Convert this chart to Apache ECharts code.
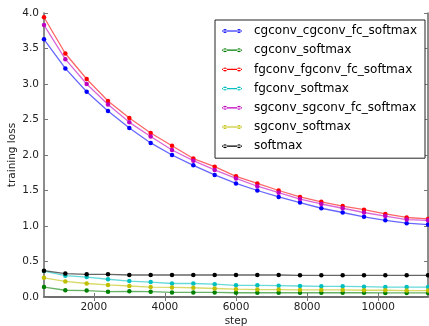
<!DOCTYPE html>
<html><head><meta charset="utf-8">
<script src="https://cdn.jsdelivr.net/npm/echarts@6/dist/echarts.min.js"></script>
<style>html,body{margin:0;padding:0;background:#fff}#c{width:429px;height:326px}</style>
</head><body><div id="c"></div>
<script>
const steps = [600,1200,1800,2400,3000,3600,4200,4800,5400,6000,6600,7200,7800,8400,9000,9600,10200,10800,11400];
const seriesNames = ['cgconv_cgconv_fc_softmax','cgconv_softmax','fgconv_fgconv_fc_softmax','fgconv_softmax','sgconv_sgconv_fc_softmax','sgconv_softmax','softmax'];
const cgconvFc = [3.63,3.22,2.89,2.62,2.38,2.17,2.00,1.855,1.72,1.60,1.50,1.41,1.33,1.25,1.19,1.13,1.08,1.04,1.02];
const cgconv = [0.14,0.095,0.09,0.075,0.08,0.075,0.065,0.065,0.065,0.06,0.06,0.06,0.06,0.06,0.06,0.06,0.058,0.058,0.058];
const fgconvFc = [3.94,3.43,3.07,2.76,2.52,2.31,2.13,1.95,1.835,1.70,1.60,1.50,1.41,1.34,1.28,1.23,1.17,1.12,1.10];
const fgconv = [0.366,0.30,0.28,0.25,0.225,0.21,0.19,0.19,0.18,0.165,0.165,0.16,0.155,0.15,0.15,0.145,0.14,0.14,0.14];
const sgconvFc = [3.83,3.35,3.00,2.71,2.46,2.26,2.07,1.92,1.79,1.67,1.56,1.47,1.38,1.31,1.25,1.19,1.14,1.09,1.08];
const sgconv = [0.27,0.22,0.19,0.17,0.155,0.14,0.135,0.13,0.12,0.11,0.105,0.105,0.10,0.10,0.10,0.095,0.095,0.09,0.09];
const softmax = [0.37,0.33,0.32,0.32,0.31,0.31,0.31,0.31,0.31,0.31,0.31,0.31,0.305,0.305,0.305,0.305,0.305,0.305,0.305];
const xTicks = [2000,4000,6000,8000,10000];
const colors = ['#0000ff','#008000','#ff0000','#00bfbf','#bf00bf','#bfbf00','#000000'];
const allValues = [cgconvFc,cgconv,fgconvFc,fgconv,sgconvFc,sgconv,softmax];

const font = 'DejaVu Sans';
const chart = echarts.init(document.getElementById('c'), null, {renderer:'canvas'});
const spine = {show:true, lineStyle:{color:'#666', width:1.5}};
const tick = {show:true, inside:true, length:4, lineStyle:{color:'#777', width:1}};
const icon = 'path://M0,1.4h20v1.2h-20z M1,2a2,2 0 1,0 4,0a2,2 0 1,0 -4,0z M15,2a2,2 0 1,0 4,0a2,2 0 1,0 -4,0z M0,2 M20,2';
chart.setOption({
  animation:false,
  grid:{left:44, right:1, top:13, bottom:29, containLabel:false, outerBoundsMode:'none'},
  xAxis:[{
    type:'value', min:600, max:11400, position:'bottom',
    name:'step', nameLocation:'middle', nameGap:19, nameMoveOverlap:false,
    nameTextStyle:{fontFamily:font, fontSize:10.5, color:'#222'},
    axisLine:spine, splitLine:{show:false},
    axisTick:Object.assign({customValues:xTicks}, tick),
    axisLabel:{customValues:xTicks, fontFamily:font, fontSize:10.5, color:'#222', margin:5, formatter:v=>String(v)}
  },{
    type:'value', min:600, max:11400, position:'top',
    axisLine:spine, splitLine:{show:false},
    axisTick:Object.assign({customValues:xTicks}, tick),
    axisLabel:{show:false}
  }],
  yAxis:[{
    type:'value', min:0, max:4, interval:0.5, position:'left',
    name:'training loss', nameLocation:'middle', nameGap:26, nameMoveOverlap:false,
    nameTextStyle:{fontFamily:font, fontSize:10.5, color:'#222'},
    axisLine:spine, splitLine:{show:false}, axisTick:tick,
    axisLabel:{fontFamily:font, fontSize:10.5, color:'#222', margin:5, formatter:v=>v.toFixed(1)}
  },{
    type:'value', min:0, max:4, interval:0.5, position:'right',
    axisLine:spine, splitLine:{show:false}, axisTick:tick, axisLabel:{show:false}
  }],
  legend:{
    orient:'vertical', left:215, top:20,
    backgroundColor:'#fff', borderColor:'#222', borderWidth:1,
    padding:[4,8,5,7], itemWidth:20, itemHeight:4, itemGap:5.2,
    icon:icon,
    textStyle:{fontFamily:font, fontSize:12, color:'#000', lineHeight:14, padding:[0,0,0,7]},
    data:seriesNames
  },
  series: seriesNames.map((n,i)=>({
    name:n, type:'line', xAxisIndex:0, yAxisIndex:0,
    data: steps.map((s,j)=>[s, allValues[i][j]]),
    symbol:'circle', symbolSize:4.5, showSymbol:true,
    itemStyle:{color:colors[i]},
    lineStyle:{color:colors[i], width:1.3, opacity:0.6},
    clip:true, z: 2
  }))
});
</script></body></html>
